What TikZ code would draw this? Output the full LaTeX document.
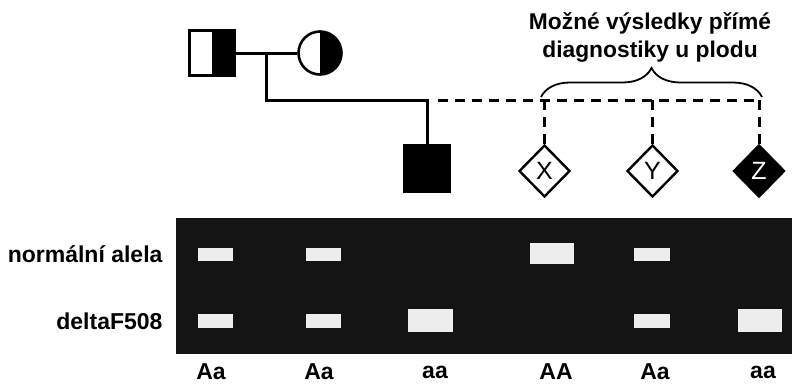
\documentclass[tikz,border=0pt]{standalone}
\usepackage{fontspec}
\setmainfont{Liberation Sans}
\usetikzlibrary{shapes.geometric,decorations.pathreplacing}

\tikzset{
  pline/.style={line width=3pt, line cap=butt},
  dline/.style={line width=3pt, dash pattern=on 10pt off 7pt},
  member/.style={draw, line width=2.6pt, inner sep=0pt, minimum size=44pt},
  fetus/.style={diamond, draw, line width=2.4pt, inner sep=0pt,
                minimum width=51pt, minimum height=52pt,
                font=\fontsize{25}{25}\selectfont},
  band/.style={fill=white!93!black},
  gellabel/.style={font=\bfseries\fontsize{23}{23}\selectfont, anchor=east},
  genotype/.style={font=\bfseries\fontsize{23}{23}\selectfont}
}

\begin{document}
\begin{tikzpicture}[x=1pt, y=-1pt]
  \useasboundingbox (0,0) rectangle (792,384);

  % parents
  \node[member, rectangle, minimum width=45pt, minimum height=45pt,
        path picture={\fill (path picture bounding box.north) rectangle (path picture bounding box.south east);}]
        (father) at (212,53) {};
  \node[member, circle, minimum size=43pt,
        path picture={\fill (path picture bounding box.north) rectangle (path picture bounding box.south east);}]
        (mother) at (320,53) {};
  \draw[pline] (father.east) -- (mother.west);
  \coordinate (mate) at (266,53);

  % affected son
  \node[member, rectangle, fill=black, minimum width=46pt, minimum height=47pt] (son) at (427,168.5) {};
  \coordinate (sib) at (427,100);
  \draw[pline] (mate) |- (sib) -- (son.north);

  % possible outcomes for the fetus
  \node[fetus] (X) at (544.5,171) {X};
  \node[fetus] (Y) at (652.5,171) {Y};
  \node[fetus, fill=black, text=white] (Z) at (759,171) {Z};
  \coordinate (dstart) at (438,100);
  \coordinate (dend) at (761,100);
  \draw[dline] (dstart) -- (dend);
  \foreach \f in {X,Y,Z}
    \draw[dline] (\f.north |- dend) -- (\f.north);

  \draw[line width=1.8pt, decorate, decoration={brace, amplitude=29pt}]
    (541,97) -- (762,97);
  \node[align=center, font=\bfseries\fontsize{22.8}{28}\selectfont] (title) at (650,37)
    {Možné výsledky přímé\\diagnostiky u plodu};

  % gel
  \fill[black!92] (176,218) rectangle (792,354);
  \fill[band] (198,248) rectangle (233,261);
  \fill[band] (306,248) rectangle (341,261);
  \fill[band] (530,243) rectangle (574,264);
  \fill[band] (634,248) rectangle (670,261);
  \fill[band] (198,314) rectangle (233,328);
  \fill[band] (306,314) rectangle (341,328);
  \fill[band] (408,309) rectangle (453,332);
  \fill[band] (634,314) rectangle (670,328);
  \fill[band] (738,309) rectangle (782,332);

  \node[gellabel] (normal) at (166,254) {normální alela};
  \node[gellabel] (delta) at (166,321) {deltaF508};

  \node[genotype] (g1) at (211,372) {Aa};
  \node[genotype] (g2) at (319,372) {Aa};
  \node[genotype] (g3) at (435,372) {aa};
  \node[genotype] (g4) at (556,372) {AA};
  \node[genotype] (g5) at (655,372) {Aa};
  \node[genotype] (g6) at (763,372) {aa};
\end{tikzpicture}
\end{document}
